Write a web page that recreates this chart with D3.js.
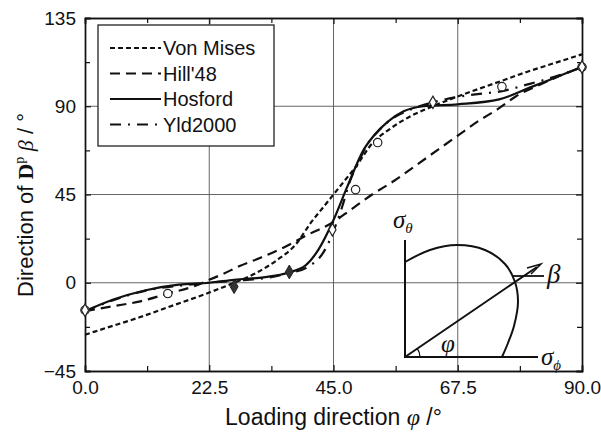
<!DOCTYPE html>
<html>
<head>
<meta charset="utf-8">
<script src="https://cdn.jsdelivr.net/npm/d3@7"></script>
<style>
  body { margin: 0; background: #fff; }
  svg { font-family: Arial, "Liberation Sans", sans-serif; }
</style>
</head>
<body>
<div id="chart"></div>
<script>
// loading direction (deg) and predicted direction of D^p (deg) for each model
var phiVM   = [0, 5, 10, 15, 22.5, 27, 31, 35, 38, 41, 43, 45, 47, 49, 52, 55, 59, 63, 67.5, 75, 80, 85, 90];
var betaVM  = [-26.5, -22, -17.5, -12.5, -5, 0, 5, 12, 19, 31, 38, 45, 52, 59, 71, 78, 85, 90, 95, 102.5, 107.5, 112, 116.5];

var phiHill  = [0, 5, 10, 15, 20, 22.5, 25, 28, 32, 36, 40, 45, 48, 52, 56, 60, 64, 67.5, 71, 75, 78, 82, 86, 90];
var betaHill = [-14.5, -12, -9.5, -5.5, -1.5, 1.5, 4.5, 8.5, 13, 18, 24, 31, 37, 45, 52, 60, 68, 75, 82, 89, 95, 100.5, 105.5, 110];

var phiHos  = [0, 5, 11, 17, 22.5, 27, 33, 36.6, 40, 42.3, 45, 47.5, 50.5, 52.3, 54.8, 57.7, 61.3, 67.5, 75, 81, 85.5, 90];
var betaHos = [-14.5, -8.7, -3.8, -1, 0, 1.5, 3, 5, 9, 17, 32, 49, 68, 75, 82, 87.4, 90, 91, 93.5, 100, 105, 110];

var phiYld  = [0, 5, 11, 17, 22.5, 27, 33, 37, 40, 43.5, 46.6, 48, 49.3, 51.2, 53, 55.3, 59, 63, 67, 72, 75.3, 80, 85, 90];
var betaYld = [-14.5, -9, -4, -1.5, 0, 1, 2.5, 5, 7.5, 17, 39, 52, 60, 71, 77, 83, 88.4, 92, 94.5, 96.5, 97.6, 101, 105, 110];

// measured points
var expCirclePhi  = [0, 15, 49, 53, 75.5, 90];
var expCircleBeta = [-14, -5.5, 47.5, 71.5, 100, 110];
var expDiamondPhi  = [0, 44.8, 63, 90];
var expDiamondBeta = [-14, 27, 92, 110];
var expFilledPhi  = [27, 37];
var expFilledBeta = [-2, 5.5];

var xTicks = [0, 22.5, 45, 67.5, 90];
var yTicks = [-45, 0, 45, 90, 135];
var xMinor = [11.25, 33.75, 56.25, 78.75];
var yMinor = [-22.5, 22.5, 67.5, 112.5];

var models = [
  {name: "Von Mises", phi: phiVM,   beta: betaVM,   dash: "5,3"},
  {name: "Hill'48",   phi: phiHill, beta: betaHill, dash: "10,6"},
  {name: "Hosford",   phi: phiHos,  beta: betaHos,  dash: null},
  {name: "Yld2000",   phi: phiYld,  beta: betaYld,  dash: "11,7,2,7"}
];

var WIDTH = 601, HEIGHT = 432,
    MARGINS = {top: 18, right: 19, bottom: 61, left: 85};

var x = d3.scaleLinear().domain([0, 90]).range([MARGINS.left, WIDTH - MARGINS.right]);
var y = d3.scaleLinear().domain([-45, 135]).range([HEIGHT - MARGINS.bottom, MARGINS.top]);

var svg = d3.select("#chart").append("svg")
    .attr("width", WIDTH)
    .attr("height", HEIGHT);

// grid
svg.append("g").selectAll("line").data(xTicks.slice(1, -1)).enter().append("line")
    .attr("x1", function(d) { return x(d); }).attr("x2", function(d) { return x(d); })
    .attr("y1", y(-45)).attr("y2", y(135))
    .attr("stroke", "#555").attr("stroke-width", 0.9);
svg.append("g").selectAll("line").data(yTicks.slice(1, -1)).enter().append("line")
    .attr("y1", function(d) { return y(d); }).attr("y2", function(d) { return y(d); })
    .attr("x1", x(0)).attr("x2", x(90))
    .attr("stroke", "#555").attr("stroke-width", 0.9);

// axes, ticks pointing inwards on all four sides
function tickAll(gen, vals, size) {
  return gen.tickValues(vals).tickSize(size).tickFormat("");
}
var axes = svg.append("g").attr("class", "axes");
axes.append("g").attr("transform", "translate(0," + y(-45) + ")")
    .call(d3.axisBottom(x).tickValues(xTicks).tickSize(-6).tickPadding(10).tickFormat(d3.format(".1f")));
axes.append("g").attr("transform", "translate(0," + y(-45) + ")").call(tickAll(d3.axisBottom(x), xMinor, -5));
axes.append("g").attr("transform", "translate(0," + y(135) + ")").call(tickAll(d3.axisTop(x), xTicks, -6));
axes.append("g").attr("transform", "translate(0," + y(135) + ")").call(tickAll(d3.axisTop(x), xMinor, -5));
axes.append("g").attr("transform", "translate(" + x(0) + ",0)")
    .call(d3.axisLeft(y).tickValues(yTicks).tickSize(-6).tickPadding(9));
axes.append("g").attr("transform", "translate(" + x(0) + ",0)").call(tickAll(d3.axisLeft(y), yMinor, -5));
axes.append("g").attr("transform", "translate(" + x(90) + ",0)").call(tickAll(d3.axisRight(y), yTicks, -6));
axes.append("g").attr("transform", "translate(" + x(90) + ",0)").call(tickAll(d3.axisRight(y), yMinor, -5));

axes.selectAll(".domain").attr("stroke", "#111").attr("stroke-width", 1.4);
axes.selectAll(".tick line").attr("stroke", "#111").attr("stroke-width", 1.2);
axes.selectAll(".tick text").attr("fill", "#111").style("font-size", "19px")
    .style("font-family", "Arial, 'Liberation Sans', sans-serif");

// model curves
var lineFunc = d3.line()
    .x(function(d) { return x(d[0]); })
    .y(function(d) { return y(d[1]); })
    .curve(d3.curveMonotoneX);

models.forEach(function(m) {
  var pts = m.phi.map(function(p, i) { return [p, m.beta[i]]; });
  svg.append("path")
      .attr("d", lineFunc(pts))
      .attr("fill", "none")
      .attr("stroke", "#111")
      .attr("stroke-width", 2.2)
      .attr("stroke-dasharray", m.dash);
});

// measured points
svg.append("g").selectAll("circle")
    .data(expCirclePhi.map(function(p, i) { return [p, expCircleBeta[i]]; }))
  .enter().append("circle")
    .attr("cx", function(d) { return x(d[0]); })
    .attr("cy", function(d) { return y(d[1]); })
    .attr("r", 4.2)
    .attr("fill", "#fff").attr("stroke", "#222").attr("stroke-width", 1.2);

var diamond = d3.symbol().type(d3.symbolDiamond).size(45);
svg.append("g").selectAll("path")
    .data(expDiamondPhi.map(function(p, i) { return [p, expDiamondBeta[i]]; }))
  .enter().append("path")
    .attr("d", diamond)
    .attr("transform", function(d) { return "translate(" + x(d[0]) + "," + y(d[1]) + ")"; })
    .attr("fill", "#fff").attr("stroke", "#222").attr("stroke-width", 1.2);

svg.append("g").selectAll("path")
    .data(expFilledPhi.map(function(p, i) { return [p, expFilledBeta[i]]; }))
  .enter().append("path")
    .attr("d", d3.symbol().type(d3.symbolDiamond).size(55))
    .attr("transform", function(d) { return "translate(" + x(d[0]) + "," + y(d[1]) + ")"; })
    .attr("fill", "#333").attr("stroke", "#222").attr("stroke-width", 1);

// legend
var legend = svg.append("g").attr("class", "legend");
legend.append("rect")
    .attr("x", 98).attr("y", 25).attr("width", 176).attr("height", 121)
    .attr("fill", "#fff").attr("stroke", "#222").attr("stroke-width", 1.3);
legend.selectAll("g").data(models).enter().append("g")
  .each(function(d, i) {
    var g = d3.select(this);
    var ly = 48 + i * 25.5;
    g.append("line")
      .attr("x1", 110).attr("x2", 161).attr("y1", ly).attr("y2", ly)
      .attr("stroke", "#111").attr("stroke-width", 2)
      .attr("stroke-dasharray", d.dash);
    g.append("text")
      .attr("x", 163).attr("y", ly + 7)
      .style("font-size", "20px").attr("fill", "#111")
      .text(d.name);
  });

// inset sketch of the yield locus
var inset = svg.append("g").attr("class", "inset")
    .attr("fill", "none").attr("stroke", "#111").attr("stroke-width", 2);
var o = [405, 357];
inset.append("path").attr("d", "M" + o[0] + ",240 L" + o[0] + "," + o[1] + " L538," + o[1]);
inset.append("path")
    .attr("d", d3.line().curve(d3.curveCatmullRom)([[405, 262], [430, 250], [457, 245], [485, 250], [505, 264], [515, 282], [518, 302], [514, 326], [508, 343], [502, 357]]));
inset.append("line").attr("x1", o[0]).attr("y1", o[1]).attr("x2", 537).attr("y2", 267);
inset.append("path").attr("d", "M527,268 L541,264 L531,274").attr("stroke-width", 1.5);
inset.append("line").attr("x1", 513).attr("y1", 276).attr("x2", 544).attr("y2", 276).attr("stroke-width", 1.8);
inset.append("path").attr("d", d3.arc()({innerRadius: 15, outerRadius: 15, startAngle: Math.PI / 2 - 0.6, endAngle: Math.PI / 2}))
    .attr("transform", "translate(" + o[0] + "," + o[1] + ")").attr("stroke-width", 1.3);

var insetText = svg.append("g").style("font-family", "'Times New Roman', 'Liberation Serif', serif")
    .attr("fill", "#111");
insetText.append("text").attr("x", 393).attr("y", 228).style("font-size", "25px").style("font-style", "italic")
    .text("σ").append("tspan").attr("dy", 5).style("font-size", "15px").text("θ");
insetText.append("text").attr("x", 541).attr("y", 365).style("font-size", "25px").style("font-style", "italic")
    .text("σ").append("tspan").attr("dy", 5).style("font-size", "15px").text("ϕ");
insetText.append("text").attr("x", 547).attr("y", 283).style("font-size", "27px").style("font-style", "italic").text("β");
insetText.append("text").attr("x", 441).attr("y", 352).style("font-size", "25px").style("font-style", "italic").text("φ");

// axis titles
svg.append("text")
    .attr("x", (x(0) + x(90)) / 2).attr("y", 425)
    .attr("text-anchor", "middle")
    .style("font-size", "23px").attr("fill", "#111")
    .text("Loading direction ")
  .append("tspan").style("font-family", "'Times New Roman', 'Liberation Serif', serif")
    .style("font-style", "italic").style("font-size", "24px").text("φ")
  .select(function() { return this.parentNode; })
  .append("tspan").text(" /°");

var yt = svg.append("text")
    .attr("transform", "translate(33," + 205 + ") rotate(-90)")
    .attr("text-anchor", "middle")
    .style("font-size", "22px").attr("fill", "#111");
yt.append("tspan").text("Direction of ");
yt.append("tspan").style("font-family", "'Times New Roman', 'Liberation Serif', serif")
    .style("font-weight", "bold").text("D");
yt.append("tspan").style("font-family", "'Times New Roman', 'Liberation Serif', serif")
    .style("font-size", "14px").attr("dy", -9).text("p");
yt.append("tspan").style("font-family", "'Times New Roman', 'Liberation Serif', serif")
    .style("font-style", "italic").attr("dy", 9).text(" β");
yt.append("tspan").text(" / °");
</script>
</body>
</html>
